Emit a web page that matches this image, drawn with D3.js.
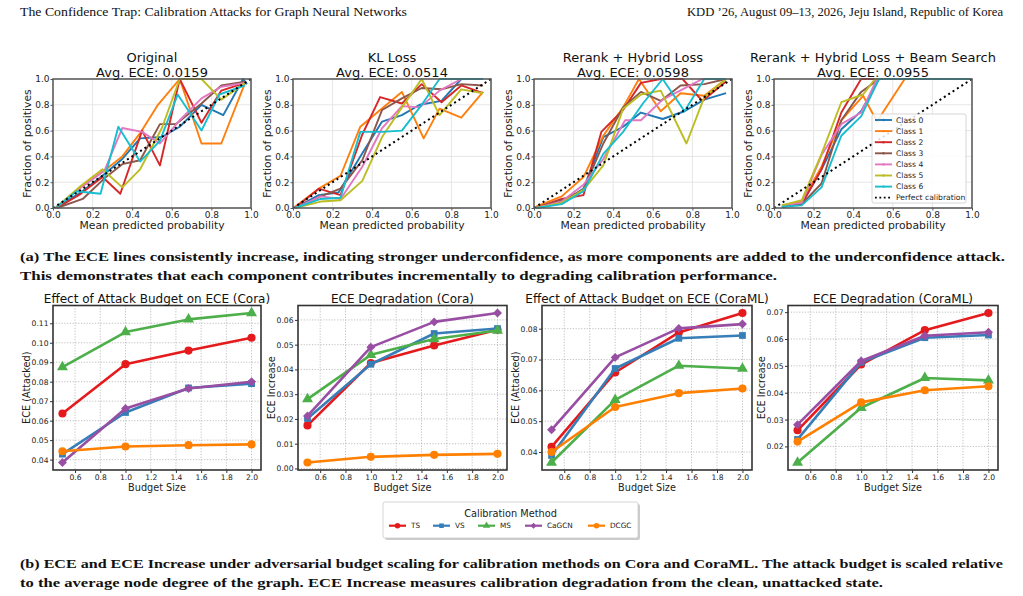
<!DOCTYPE html>
<html><head><meta charset="utf-8">
<script src="https://cdn.jsdelivr.net/npm/d3@7"></script>
<style>body{margin:0;background:#fff}svg{display:block}</style>
</head><body><svg id="c" width="1023" height="596"></svg>
<script>
// ---------------- DATA ----------------
const classNames = ["Class 0","Class 1","Class 2","Class 3","Class 4","Class 5","Class 6"];
const classColors = ["#1f77b4","#ff7f0e","#d62728","#8c564b","#e377c2","#bcbd22","#17becf"];
const unitTicks = [0,0.2,0.4,0.6,0.8,1.0];

const curvesOriginal = [
  [[0.01,0],[0.14,0.12],[0.25,0.25],[0.35,0.38],[0.44,0.54],[0.55,0.55],[0.64,0.63],[0.75,0.80],[0.86,0.72],[0.96,1.0],[0.98,0.96]],
  [[0.02,0.01],[0.14,0.16],[0.25,0.28],[0.35,0.40],[0.44,0.58],[0.53,0.80],[0.64,1.0],[0.75,0.50],[0.85,0.50],[0.97,0.97]],
  [[0.02,0],[0.14,0.11],[0.25,0.24],[0.34,0.11],[0.45,0.60],[0.54,0.33],[0.64,1.0],[0.75,0.66],[0.85,0.91],[0.97,0.97]],
  [[0.02,0],[0.15,0.07],[0.26,0.23],[0.35,0.34],[0.44,0.37],[0.54,0.65],[0.62,0.65],[0.75,0.81],[0.85,0.95],[0.97,0.98]],
  [[0.02,0.01],[0.14,0.16],[0.26,0.29],[0.35,0.62],[0.45,0.59],[0.54,0.50],[0.64,0.68],[0.75,0.85],[0.85,0.94],[0.97,0.97]],
  [[0.02,0.01],[0.14,0.17],[0.25,0.30],[0.35,0.16],[0.44,0.30],[0.55,0.62],[0.64,1.0],[0.75,1.0],[0.85,0.84],[0.97,0.97]],
  [[0.02,0.01],[0.12,0.13],[0.24,0.11],[0.33,0.63],[0.44,0.36],[0.54,0.52],[0.63,0.88],[0.75,0.60],[0.84,0.88],[0.97,0.95]]
];
const curvesKL = [
  [[0.01,0],[0.13,0.10],[0.23,0.12],[0.34,0.40],[0.45,0.67],[0.55,0.72],[0.64,0.80],[0.75,0.83],[0.85,1.0],[0.96,1.0]],
  [[0.01,0.01],[0.13,0.15],[0.24,0.25],[0.34,0.63],[0.44,0.76],[0.55,0.90],[0.66,0.54],[0.74,0.77],[0.85,0.70],[0.96,0.90]],
  [[0.01,0],[0.13,0.15],[0.24,0.10],[0.35,0.57],[0.44,0.86],[0.55,0.81],[0.65,0.96],[0.75,0.82],[0.85,0.95],[0.96,0.89]],
  [[0.01,0],[0.14,0.09],[0.24,0.15],[0.35,0.37],[0.45,0.76],[0.55,0.85],[0.65,0.93],[0.75,0.92],[0.85,0.96],[0.96,0.95]],
  [[0.01,0],[0.14,0.09],[0.24,0.07],[0.35,0.32],[0.45,0.62],[0.55,0.79],[0.64,0.78],[0.74,0.91],[0.85,1.0],[0.96,1.0]],
  [[0.01,0],[0.14,0.05],[0.24,0.06],[0.35,0.21],[0.45,0.55],[0.55,0.78],[0.65,1.0],[0.74,0.72],[0.85,0.92],[0.96,0.89]],
  [[0.01,0],[0.14,0.07],[0.24,0.08],[0.34,0.59],[0.45,0.59],[0.55,0.60],[0.65,0.80],[0.74,1.0],[0.85,1.0],[0.96,1.0]]
];
const curvesRerank = [
  [[0.01,0],[0.14,0.04],[0.25,0.15],[0.35,0.55],[0.45,0.63],[0.54,0.74],[0.65,0.69],[0.76,0.75],[0.86,0.84],[0.97,0.89]],
  [[0.01,0.01],[0.14,0.09],[0.25,0.24],[0.35,0.56],[0.45,0.78],[0.53,1.0],[0.64,0.75],[0.74,0.89],[0.86,0.87],[0.97,1.0]],
  [[0.01,0],[0.14,0.07],[0.25,0.10],[0.34,0.59],[0.45,0.76],[0.54,0.97],[0.64,1.0],[0.75,1.0],[0.85,0.83],[0.97,0.98]],
  [[0.01,0],[0.14,0.06],[0.25,0.14],[0.35,0.50],[0.45,0.78],[0.54,0.90],[0.64,0.83],[0.74,0.95],[0.86,0.96],[0.97,1.0]],
  [[0.01,0],[0.14,0.05],[0.25,0.18],[0.35,0.38],[0.46,0.68],[0.54,0.68],[0.65,0.84],[0.75,0.92],[0.85,1.0],[0.97,1.0]],
  [[0.01,0],[0.14,0.04],[0.25,0.14],[0.35,0.33],[0.45,0.77],[0.54,0.88],[0.64,0.91],[0.77,0.50],[0.86,0.86],[0.97,1.0]],
  [[0.01,0],[0.14,0.03],[0.25,0.13],[0.35,0.42],[0.45,0.59],[0.55,0.81],[0.65,1.0],[0.76,0.75],[0.86,1.0],[0.97,1.0]]
];
const curvesBeam = [
  [[0.04,0.01],[0.14,0.03],[0.24,0.30],[0.34,0.61],[0.44,0.75],[0.53,1.0],[0.66,1.0],[0.99,1.0]],
  [[0.04,0.02],[0.14,0.05],[0.24,0.32],[0.34,0.68],[0.45,0.87],[0.52,0.67],[0.66,1.0],[0.99,1.0]],
  [[0.04,0.01],[0.14,0.03],[0.24,0.30],[0.34,0.74],[0.44,1.0],[0.53,1.0],[0.99,1.0]],
  [[0.04,0.01],[0.14,0.03],[0.24,0.19],[0.34,0.68],[0.44,0.90],[0.53,1.0],[0.99,1.0]],
  [[0.04,0.02],[0.14,0.04],[0.24,0.41],[0.34,0.65],[0.44,0.74],[0.52,1.0],[0.99,1.0]],
  [[0.04,0.02],[0.14,0.06],[0.24,0.42],[0.34,0.82],[0.45,0.88],[0.51,1.0],[0.99,1.0]],
  [[0.04,0.01],[0.14,0.02],[0.24,0.16],[0.34,0.56],[0.44,0.71],[0.53,1.0],[0.99,1.0]]
];
const topTitles = ["Original","KL Loss","Rerank + Hybrid Loss","Rerank + Hybrid Loss + Beam Search"];
const topECE = ["Avg. ECE: 0.0159","Avg. ECE: 0.0514","Avg. ECE: 0.0598","Avg. ECE: 0.0955"];

const budgets = [0.5, 1.0, 1.5, 2.0];
const budgetTicks = [0.6, 0.8, 1.0, 1.2, 1.4, 1.6, 1.8, 2.0];
const methods = ["TS","VS","MS","CaGCN","DCGC"];
const methodColors = ["#e41a1c","#377eb8","#4daf4a","#984ea3","#ff7f00"];
// order: TS, VS, MS, CaGCN, DCGC
const coraAttacked = [
  [0.0637, 0.0890, 0.0960, 0.1026],
  [0.0428, 0.0642, 0.0768, 0.0790],
  [0.0875, 0.1055, 0.1120, 0.1153],
  [0.0385, 0.0662, 0.0765, 0.0800],
  [0.0443, 0.0467, 0.0474, 0.0478]
];
const coraIncrease = [
  [0.0174, 0.0426, 0.0497, 0.0560],
  [0.0202, 0.0421, 0.0545, 0.0565],
  [0.0280, 0.0459, 0.0523, 0.0557],
  [0.0212, 0.0490, 0.0592, 0.0628],
  [0.0024, 0.0047, 0.0055, 0.0059]
];
const coramlAttacked = [
  [0.0417, 0.0658, 0.0788, 0.0851],
  [0.0389, 0.0671, 0.0769, 0.0778],
  [0.0366, 0.0569, 0.0680, 0.0671],
  [0.0472, 0.0707, 0.0801, 0.0815],
  [0.0400, 0.0546, 0.0591, 0.0606]
];
const coramlIncrease = [
  [0.0260, 0.0505, 0.0633, 0.0697],
  [0.0226, 0.0513, 0.0605, 0.0615],
  [0.0140, 0.0344, 0.0455, 0.0446],
  [0.0281, 0.0518, 0.0612, 0.0625],
  [0.0218, 0.0364, 0.0409, 0.0424]
];
const bottomTitles = ["Effect of Attack Budget on ECE (Cora)","ECE Degradation (Cora)","Effect of Attack Budget on ECE (CoraML)","ECE Degradation (CoraML)"];
const bottomYLabels = ["ECE (Attacked)","ECE Increase","ECE (Attacked)","ECE Increase"];
const bottomYTicks = [
  [0.04,0.05,0.06,0.07,0.08,0.09,0.10,0.11],
  [0.00,0.01,0.02,0.03,0.04,0.05,0.06],
  [0.04,0.05,0.06,0.07,0.08],
  [0.02,0.03,0.04,0.05,0.06,0.07]
];

// ---------------- DRAW ----------------
const svg = d3.select("#c");
svg.append("rect").attr("width",1023).attr("height",596).attr("fill","#fff");
const SANS = "DejaVu Sans, sans-serif";
const SERIF = "Liberation Serif, DejaVu Serif, serif";

// header
svg.append("text").attr("x",20).attr("y",16).attr("font-family",SERIF).attr("font-size",12)
  .attr("textLength",387).attr("lengthAdjust","spacingAndGlyphs").attr("fill","#111")
  .text("The Confidence Trap: Calibration Attacks for Graph Neural Networks");
svg.append("text").attr("x",687).attr("y",16).attr("font-family",SERIF).attr("font-size",12)
  .attr("textLength",316).attr("lengthAdjust","spacingAndGlyphs").attr("fill","#111")
  .text("KDD \u201926, August 09\u201313, 2026, Jeju Island, Republic of Korea");

// ---- top calibration panels
const topLefts = [53, 293, 534, 774];
const topW = 198, topTop = 79, topBot = 208;
const topData = [curvesOriginal, curvesKL, curvesRerank, curvesBeam];

topData.forEach((curves, pi) => {
  const L = topLefts[pi];
  const x = d3.scaleLinear().domain([0,1]).range([L, L+topW]);
  const y = d3.scaleLinear().domain([0,1]).range([topBot, topTop]);
  const g = svg.append("g");
  g.selectAll(".gx").data(unitTicks).join("line")
    .attr("x1",d=>x(d)).attr("x2",d=>x(d)).attr("y1",topTop).attr("y2",topBot)
    .attr("stroke","#e6e6e6").attr("stroke-width",1);
  g.selectAll(".gy").data(unitTicks).join("line")
    .attr("y1",d=>y(d)).attr("y2",d=>y(d)).attr("x1",L).attr("x2",L+topW)
    .attr("stroke","#e6e6e6").attr("stroke-width",1);
  const clip = "clipT"+pi;
  svg.append("clipPath").attr("id",clip).append("rect").attr("x",L).attr("y",topTop-2).attr("width",topW+2).attr("height",topBot-topTop+4);
  const line = d3.line().x(d=>x(d[0])).y(d=>y(d[1]));
  const cg = g.append("g").attr("clip-path",`url(#${clip})`);
  curves.forEach((c,ci) => {
    cg.append("path").attr("d",line(c)).attr("fill","none")
      .attr("stroke",classColors[ci]).attr("stroke-width",1.9).attr("stroke-linejoin","round");
  });
  cg.append("path").attr("d",line([[0,0],[1,1]])).attr("fill","none")
    .attr("stroke","#000").attr("stroke-width",2).attr("stroke-dasharray","2,3.2");
  g.append("rect").attr("x",L).attr("y",topTop).attr("width",topW).attr("height",topBot-topTop)
    .attr("fill","none").attr("stroke","#555").attr("stroke-width",1.5);
  const ax = d3.axisBottom(x).tickValues(unitTicks).tickFormat(d3.format(".1f")).tickSize(2.5).tickPadding(1.5);
  const ay = d3.axisLeft(y).tickValues(unitTicks).tickFormat(d3.format(".1f")).tickSize(2.5).tickPadding(1);
  const gx = g.append("g").attr("transform",`translate(0,${topBot})`).call(ax);
  const gy = g.append("g").attr("transform",`translate(${L},0)`).call(ay);
  [gx,gy].forEach(a=>{
    a.select(".domain").remove();
    a.selectAll("line").attr("stroke","#555");
    a.selectAll("text").attr("font-family",SANS).attr("font-size",9).attr("fill","#222");
  });
  g.append("text").attr("transform",`translate(${L-26},${(topTop+topBot)/2}) rotate(-90)`)
    .attr("text-anchor","middle").attr("dy","0.35em").attr("font-family",SANS).attr("font-size",10.8)
    .attr("fill","#222").text("Fraction of positives");
  g.append("text").attr("x",L+topW/2).attr("y",229).attr("text-anchor","middle")
    .attr("font-family",SANS).attr("font-size",10.8).attr("fill","#222").text("Mean predicted probability");
  g.append("text").attr("x",L+topW/2).attr("y",61.5).attr("text-anchor","middle")
    .attr("font-family",SANS).attr("font-size",13).attr("fill","#111").text(topTitles[pi]);
  g.append("text").attr("x",L+topW/2).attr("y",77).attr("text-anchor","middle")
    .attr("font-family",SANS).attr("font-size",13).attr("fill","#111").text(topECE[pi]);
});

// top legend (in last panel)
{
  const lg = svg.append("g");
  lg.append("rect").attr("x",872).attr("y",114).attr("width",94).attr("height",89).attr("rx",2)
    .attr("fill","#fff").attr("fill-opacity",0.85).attr("stroke","#ccc").attr("stroke-width",0.8);
  const entries = classNames.map((n,i)=>({n, c:classColors[i], dot:false}));
  entries.push({n:"Perfect calibration", c:"#000", dot:true});
  entries.forEach((e,i)=>{
    const yy = 120 + i*11.1;
    lg.append("line").attr("x1",875).attr("x2",892).attr("y1",yy).attr("y2",yy)
      .attr("stroke",e.c).attr("stroke-width",e.dot?1.8:1.9).attr("stroke-dasharray",e.dot?"1.8,2.6":null);
    if(!e.dot) lg.append("circle").attr("cx",883.5).attr("cy",yy).attr("r",1.2).attr("fill",e.c);
    lg.append("text").attr("x",896).attr("y",yy).attr("dy","0.35em").attr("font-family",SANS)
      .attr("font-size",7.6).attr("fill","#222").text(e.n);
  });
}

// captions
function caption(txt, x, y, len){
  svg.append("text").attr("x",x).attr("y",y).attr("font-family",SERIF).attr("font-weight","bold")
    .attr("font-size",13.5).attr("textLength",len).attr("lengthAdjust","spacingAndGlyphs")
    .attr("fill","#111").text(txt);
}
caption("(a) The ECE lines consistently increase, indicating stronger underconfidence, as more components are added to the underconfidence attack.", 20, 260.5, 985);
caption("This demonstrates that each component contributes incrementally to degrading calibration performance.", 20, 279.5, 757);
caption("(b) ECE and ECE Increase under adversarial budget scaling for calibration methods on Cora and CoraML. The attack budget is scaled relative", 20, 567.5, 983);
caption("to the average node degree of the graph. ECE Increase measures calibration degradation from the clean, unattacked state.", 20, 586.5, 863);

// ---- bottom panels
const botLefts = [53, 298, 542, 788];
const botRights = [261, 507, 752, 998];
const botTop = 305.5, botBot = 470;
const botData = [coraAttacked, coraIncrease, coramlAttacked, coramlIncrease];
const symbols = [d3.symbolCircle, d3.symbolSquare, d3.symbolTriangle, d3.symbolSquare, d3.symbolCircle];
const symRot = [0,0,0,45,0];
const symSize = [52, 46, 52, 40, 52];

botData.forEach((series, pi) => {
  const L = botLefts[pi], R = botRights[pi];
  const x = d3.scaleLinear().domain([0.425, 2.075]).range([L, R]);
  const all = series.flat();
  const mn = d3.min(all), mx = d3.max(all), pad = (mx-mn)*0.05;
  const y = d3.scaleLinear().domain([mn-pad, mx+pad]).range([botBot, botTop]);
  const g = svg.append("g");
  const yt = bottomYTicks[pi];
  g.selectAll(".gx").data(budgetTicks).join("line")
    .attr("x1",d=>x(d)).attr("x2",d=>x(d)).attr("y1",botTop).attr("y2",botBot)
    .attr("stroke","#b0b0b0").attr("stroke-width",0.8).attr("stroke-dasharray","1.2,1.6");
  g.selectAll(".gy").data(yt).join("line")
    .attr("y1",d=>y(d)).attr("y2",d=>y(d)).attr("x1",L).attr("x2",R)
    .attr("stroke","#b0b0b0").attr("stroke-width",0.8).attr("stroke-dasharray","1.2,1.6");
  const line = d3.line().x((d,i)=>x(budgets[i])).y(d=>y(d));
  series.forEach((s, mi) => {
    g.append("path").attr("d",line(s)).attr("fill","none").attr("stroke",methodColors[mi])
      .attr("stroke-width",2.6).attr("stroke-linejoin","round");
    g.selectAll(null).data(s).join("path")
      .attr("d", d3.symbol().type(symbols[mi]).size(symSize[mi]))
      .attr("transform",(d,i)=>`translate(${x(budgets[i])},${y(d)}) rotate(${symRot[mi]})`)
      .attr("fill",methodColors[mi]);
  });
  g.append("rect").attr("x",L).attr("y",botTop).attr("width",R-L).attr("height",botBot-botTop)
    .attr("fill","none").attr("stroke","#333").attr("stroke-width",1.6);
  const ax = d3.axisBottom(x).tickValues(budgetTicks).tickFormat(d3.format(".1f")).tickSize(3).tickPadding(1.5);
  const ay = d3.axisLeft(y).tickValues(yt).tickFormat(d3.format(".2f")).tickSize(3).tickPadding(1.5);
  const gx = g.append("g").attr("transform",`translate(0,${botBot})`).call(ax);
  const gy = g.append("g").attr("transform",`translate(${L},0)`).call(ay);
  [gx,gy].forEach(a=>{
    a.select(".domain").remove();
    a.selectAll("line").attr("stroke","#333");
    a.selectAll("text").attr("font-family",SANS).attr("font-size",7.6).attr("fill","#222");
  });
  g.append("text").attr("transform",`translate(${L-26.5},${(botTop+botBot)/2}) rotate(-90)`)
    .attr("text-anchor","middle").attr("dy","0.35em").attr("font-family",SANS).attr("font-size",9.7)
    .attr("fill","#222").text(bottomYLabels[pi]);
  g.append("text").attr("x",(L+R)/2).attr("y",491).attr("text-anchor","middle")
    .attr("font-family",SANS).attr("font-size",9.7).attr("fill","#222").text("Budget Size");
  g.append("text").attr("x",(L+R)/2).attr("y",303).attr("text-anchor","middle")
    .attr("font-family",SANS).attr("font-size",12).attr("fill","#111").text(bottomTitles[pi]);
});

// bottom legend
{
  const lg = svg.append("g");
  lg.append("rect").attr("x",385).attr("y",504).attr("width",255).attr("height",36).attr("rx",2)
    .attr("fill","#999").attr("opacity",0.5);
  lg.append("rect").attr("x",383).attr("y",502).attr("width",255).attr("height",36).attr("rx",2)
    .attr("fill","#fff").attr("stroke","#ccc").attr("stroke-width",0.8);
  lg.append("text").attr("x",510.5).attr("y",513.5).attr("dy","0.35em").attr("text-anchor","middle")
    .attr("font-family",SANS).attr("font-size",9.75).attr("fill","#222").text("Calibration Method");
  const lx = [389, 433, 478, 525, 588];
  methods.forEach((m, mi)=>{
    const yy = 525.7, x0 = lx[mi];
    lg.append("line").attr("x1",x0).attr("x2",x0+17).attr("y1",yy).attr("y2",yy)
      .attr("stroke",methodColors[mi]).attr("stroke-width",2.2);
    lg.append("path").attr("d",d3.symbol().type(symbols[mi]).size(symSize[mi]*0.45))
      .attr("transform",`translate(${x0+8.5},${yy}) rotate(${symRot[mi]})`).attr("fill",methodColors[mi]);
    lg.append("text").attr("x",x0+22).attr("y",yy).attr("dy","0.35em").attr("font-family",SANS)
      .attr("font-size",7.3).attr("fill","#222").text(m);
  });
}
</script></body></html>
